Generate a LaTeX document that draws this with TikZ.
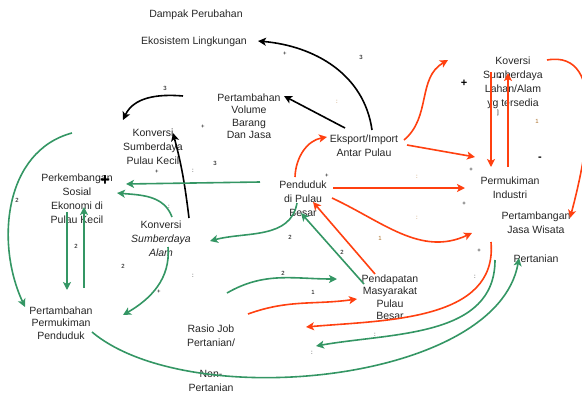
\documentclass[tikz,border=0pt]{standalone}
\usepackage{fontspec}
\setmainfont{Liberation Sans}
\usetikzlibrary{arrows.meta,positioning}
\definecolor{cHijau}{RGB}{52,150,100}
\definecolor{cMerah}{RGB}{255,64,16}
\definecolor{cCoklat}{RGB}{170,110,40}

\begin{document}
\begin{tikzpicture}[x=1pt,y=1pt,on grid,
    teks/.style={align=center,text=black!85,inner sep=1pt,font=\fontsize{10.5}{14}\selectfont},
    rapat/.style={font=\fontsize{10.5}{12.5}\selectfont},
    tanda/.style={inner sep=0pt,font=\fontsize{6}{6}\selectfont},
    tebal/.style={inner sep=0pt,font=\bfseries\fontsize{11}{11}\selectfont},
    panah/.style={line width=1.6pt,-{Stealth[length=8pt,width=8pt,inset=2pt]}},
    hitam/.style={panah,draw=black},
    hijau/.style={panah,draw=cHijau},
    merah/.style={panah,draw=cMerah}]
\useasboundingbox (0,0) rectangle (582,-394);

\node[teks] (pend) at (303,-199) {Penduduk\\di Pulau\\Besar};
\node[teks] (eks) [above right=53pt and 61pt of pend] {Eksport/Import\\Antar Pulau};
\node[teks,rapat] (vol) [above left=30pt and 115pt of eks] {Pertambahan\\Volume\\Barang\\Dan Jasa};
\node[teks] (konvPK) [below left=31pt and 96pt of vol] {Konversi\\Sumberdaya\\Pulau Kecil};
\node[teks] (perk) [left=226pt of pend] {Perkembangan\\Sosial\\Ekonomi di\\Pulau Kecil};
\node[teks] (konvAlam) [below left=40pt and 142pt of pend] {Konversi\\\textit{Sumberdaya}\\\textit{Alam}};
\node[teks,rapat] (permPend) [below left=124pt and 16pt of perk] {Pertambahan\\Permukiman\\Penduduk};
\node[teks] (koversi) [above right=116pt and 210pt of pend] {Koversi\\Sumberdaya\\Lahan/Alam\\yg tersedia};
\node[teks] (industri) [below left=105pt and 3pt of koversi] {Permukiman\\Industri};
\node[teks] (tambang) [below right=35pt and 26pt of industri] {Pertambangan\\Jasa Wisata};
\node[teks] (tani) [below=36pt of tambang] {Pertanian};
\node[teks,rapat] (pendapatan) [below right=98pt and 87pt of pend] {Pendapatan\\Masyarakat\\Pulau\\Besar};
\node[teks] (rasio) [below left=137pt and 92pt of pend] {Rasio Job\\Pertanian/};
\node[teks] (nontani) [below=45pt of rasio] {Non-\\Pertanian};
\node[teks] (ekos) [above left=74pt and 55pt of vol] {Ekosistem Lingkungan};
\node[teks] (dampak) [above right=27pt and 2pt of ekos] {Dampak Perubahan};

\path
  ([shift={(8,16)}]eks.center) edge[hitam,out=98,in=-5] ([shift={(64,1)}]ekos.center)
  ([shift={(-19,18)}]eks.center) edge[hitam] ([shift={(35,20)}]vol.center)
  ([shift={(-66,20)}]vol.center) edge[hitam,out=175,in=65] ([shift={(-30,27)}]konvPK.center)
  ([shift={(28,21)}]konvAlam.center) edge[hitam,out=97,in=-75] ([shift={(20,14)}]konvPK.center);

\path
  ([shift={(-43,17)}]pend.center) edge[hijau] ([shift={(49,15)}]perk.center)
  ([shift={(11,22)}]konvAlam.center) edge[hijau,out=110,in=-5] ([shift={(40,6)}]perk.center)
  ([shift={(-10,-13)}]perk.center) edge[hijau] ([shift={(6,33)}]permPend.center)
  ([shift={(23,35)}]permPend.center) edge[hijau] ([shift={(7,-8)}]perk.center)
  ([shift={(-81,14)}]konvPK.center) edge[hijau,out=195,in=115] ([shift={(-36,16)}]permPend.center)
  ([shift={(7,-8)}]konvAlam.center) edge[hijau,out=-85,in=30] ([shift={(62,8)}]permPend.center)
  ([shift={(-6,-4)}]pend.center) edge[hijau,out=-100,in=15] ([shift={(49,-2)}]konvAlam.center)
  ([shift={(-26,13)}]pendapatan.center) edge[hijau] ([shift={(-2,-14)}]pend.center)
  ([shift={(16,43)}]rasio.center) edge[hijau,out=30,in=180] ([shift={(-53,18)}]pendapatan.center)
  ([shift={(31,-9)}]permPend.center) edge[hijau,out=-40,in=-100,looseness=0.75] ([shift={(-17,1)}]tani.center)
  ([shift={(-41,-1)}]tani.center) edge[hijau,out=-90,in=10] ([shift={(105,-10)}]rasio.center);

\path
  ([shift={(-8,22)}]pend.center) edge[merah,out=88,in=190] ([shift={(-37,9)}]eks.center)
  ([shift={(40,6)}]eks.center) edge[merah,out=40,in=210] ([shift={(-65,23)}]koversi.center)
  ([shift={(43,1)}]eks.center) edge[merah] ([shift={(-35,31)}]industri.center)
  ([shift={(30,11)}]pend.center) edge[merah] ([shift={(-45,0)}]industri.center)
  ([shift={(29,1)}]pend.center) edge[merah,out=-25,in=205] ([shift={(-38,-45)}]industri.center)
  ([shift={(-15,23)}]pendapatan.center) edge[merah] ([shift={(10,-3)}]pend.center)
  ([shift={(-22,11)}]koversi.center) edge[merah] ([shift={(-19,21)}]industri.center)
  ([shift={(-2,21)}]industri.center) edge[merah] ([shift={(-5,10)}]koversi.center)
  ([shift={(34,23)}]koversi.center) edge[merah,out=10,in=75] ([shift={(34,5)}]tambang.center)
  ([shift={(-45,17)}]tani.center) edge[merah,out=-85,in=5] ([shift={(95,9)}]rasio.center)
  ([shift={(37,22)}]rasio.center) edge[merah,out=20,in=188] ([shift={(-33,-2)}]pendapatan.center);

% tanda kecil
\foreach \x/\y/\t/\c [count=\i] in {165/88/3/black, 285/54/+/black, 361/57/3/black,
    337/102/:/cCoklat, 203/127/+/black, 215/163/3/black, 193/171/:/black,
    157/172/+/black, 17/200/2/black, 76/246/2/black, 123/266/2/black,
    169/207/:/black, 193/276/:/black, 159/292/+/black, 290/237/2/black,
    342/252/2/black, 283/273/2/black, 313/292/1/black, 380/238/1/cCoklat,
    417/218/:/cCoklat, 417/177/:/cCoklat, 464/204/+/black, 479/251/+/black,
    475/277/:/black, 375/335/:/black, 312/353/:/black, 498/113/]/black,
    537/121/1/cCoklat, 471/170/+/black, 327/176/+/black}
  \node[tanda,text=\c] (t\i) at (\x,-\y) {\t};
\node[tebal,font=\bfseries\fontsize{17}{17}\selectfont] (plusBesar) at (105,-181) {+};
\node[tebal] (plusA) at (464,-83) {+};
\node[tebal] (minA) at (500,-79) {-};
\node[tebal] (minB) at (540,-159) {-};
\end{tikzpicture}
\end{document}
